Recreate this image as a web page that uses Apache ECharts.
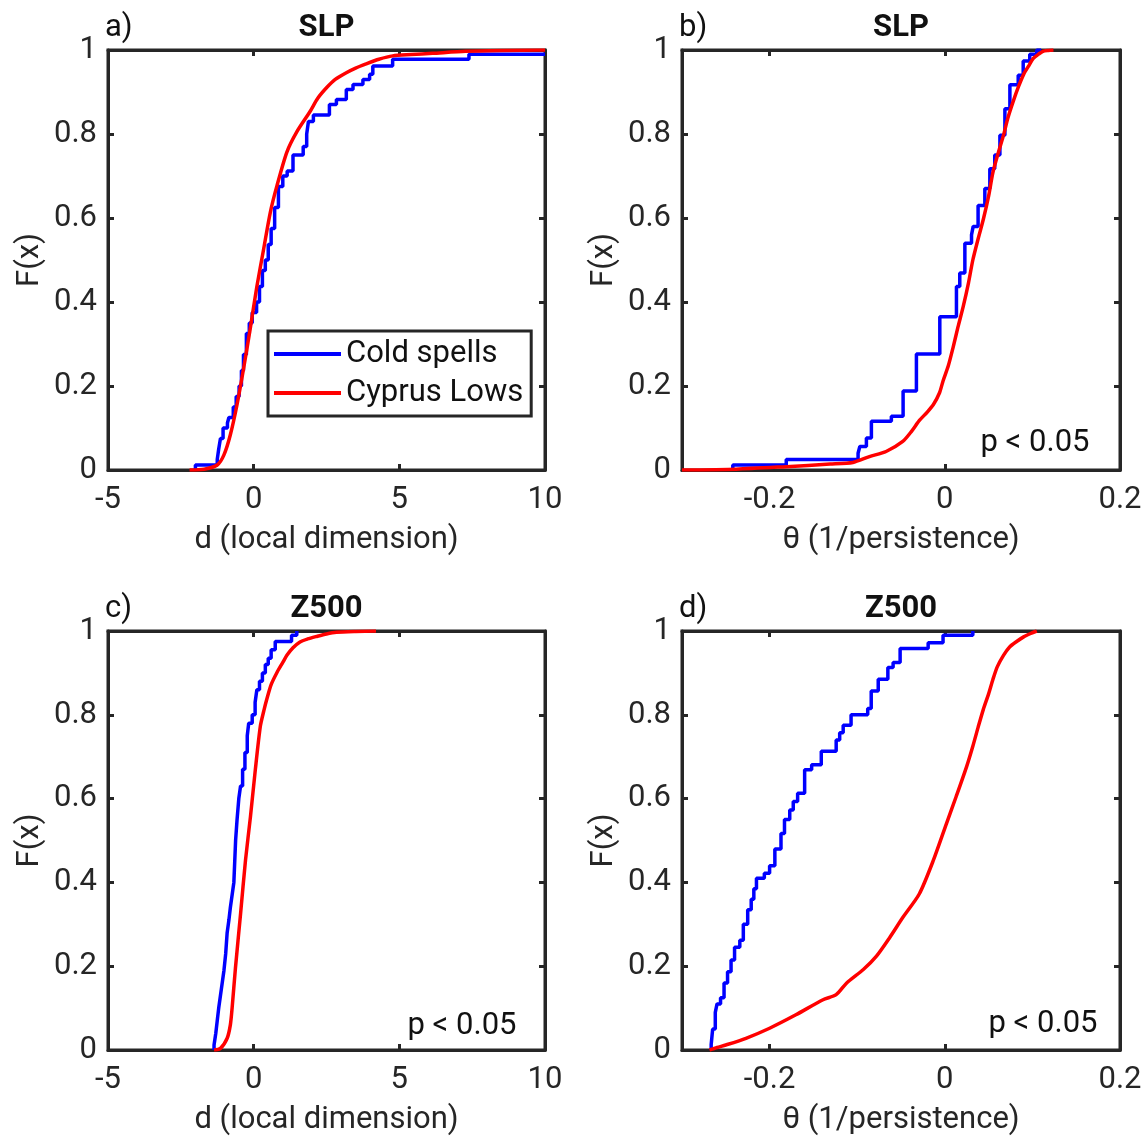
<!DOCTYPE html>
<html><head><meta charset="utf-8">
<script src="https://cdn.jsdelivr.net/npm/echarts@6/dist/echarts.min.js"></script>
<style>html,body{margin:0;padding:0;background:#fff}#c{width:1145px;height:1137px}</style>
</head><body><div id="c"></div>
<script>
// ---------- data ----------
// Panel a: SLP, local dimension d
const aColdX = [-2.0,-2.0,-1.25,-1.2,-1.14,-1.05,-0.9,-0.85,-0.7,-0.6,-0.5,-0.42,-0.35,-0.25,-0.15,-0.05,0.1,0.2,0.3,0.4,0.5,0.6,0.72,0.85,1.0,1.15,1.35,1.7,1.82,1.88,2.05,2.6,2.84,3.18,3.41,3.75,3.98,4.09,4.77,7.39,10];
const aColdF = [0,0.012,0.025,0.05,0.075,0.1,0.112,0.125,0.15,0.175,0.2,0.237,0.275,0.325,0.35,0.375,0.4,0.437,0.475,0.5,0.537,0.575,0.625,0.675,0.7,0.712,0.75,0.77,0.8,0.83,0.845,0.87,0.882,0.906,0.918,0.93,0.942,0.962,0.978,0.99,0.99];
const aCyprX = [-2.2,-1.7,-1.25,-1.02,-0.8,-0.57,-0.34,-0.11,0.11,0.34,0.57,0.8,1.14,1.48,1.93,2.2,2.5,2.8,3.18,3.5,3.86,4.3,4.77,5.4,6.14,7.27,8.5,10];
const aCyprF = [0,0.002,0.012,0.036,0.084,0.156,0.244,0.34,0.437,0.525,0.613,0.677,0.757,0.805,0.853,0.885,0.91,0.93,0.946,0.957,0.967,0.978,0.986,0.989,0.992,0.997,0.999,1.0];
// Panel b: SLP, theta
const bColdX = [-0.242,-0.242,-0.181,-0.099,-0.097,-0.0895,-0.0838,-0.061,-0.0476,-0.0324,-0.0057,0.0133,0.0171,0.0229,0.0305,0.0324,0.038,0.0457,0.0514,0.057,0.0629,0.0686,0.0743,0.0838,0.0895,0.097,0.105,0.11];
const bColdF = [0,0.012,0.025,0.04,0.056,0.076,0.116,0.128,0.188,0.276,0.365,0.437,0.469,0.54,0.56,0.58,0.63,0.67,0.717,0.75,0.797,0.86,0.917,0.94,0.974,0.99,1.0,1.0];
const bCyprX = [-0.3,-0.238,-0.181,-0.131,-0.105,-0.086,-0.067,-0.048,-0.038,-0.029,-0.02,-0.013,-0.006,-0.002,0.004,0.0095,0.015,0.021,0.027,0.032,0.038,0.044,0.05,0.055,0.061,0.067,0.072,0.078,0.084,0.09,0.096,0.101,0.107,0.112,0.118,0.124];
const bCyprF = [0,0.002,0.008,0.014,0.018,0.032,0.044,0.068,0.092,0.118,0.138,0.156,0.184,0.212,0.248,0.292,0.34,0.389,0.445,0.5,0.55,0.597,0.652,0.709,0.755,0.797,0.838,0.877,0.912,0.942,0.963,0.98,0.99,0.997,0.999,1.0];
// Panel c: Z500, local dimension d
const cColdX = [-1.36,-1.36,-1.3,-1.25,-1.2,-1.14,-1.08,-1.02,-0.96,-0.91,-0.85,-0.8,-0.74,-0.68,-0.65,-0.62,-0.57,-0.51,-0.45,-0.38,-0.3,-0.22,-0.17,-0.05,0.05,0.11,0.2,0.3,0.4,0.5,0.6,0.74,1.3,1.48,1.5];
const cColdF = [0,0.012,0.04,0.07,0.1,0.13,0.16,0.19,0.23,0.28,0.31,0.34,0.37,0.4,0.45,0.5,0.55,0.6,0.63,0.67,0.71,0.75,0.78,0.8,0.83,0.86,0.88,0.9,0.92,0.935,0.955,0.975,0.99,1.0,1.0];
const cCyprX = [-1.36,-1.14,-0.91,-0.8,-0.74,-0.625,-0.45,-0.28,-0.11,0.057,0.23,0.35,0.45,0.6,0.8,1.0,1.14,1.35,1.59,1.85,2.16,2.5,2.84,3.5,4.2];
const cCyprF = [0,0.004,0.028,0.06,0.1,0.196,0.325,0.453,0.557,0.669,0.773,0.81,0.837,0.872,0.901,0.925,0.942,0.96,0.974,0.981,0.987,0.993,0.997,0.999,1.0];
// Panel d: Z500, theta
const dColdX = [-0.2667,-0.2667,-0.265,-0.262,-0.26,-0.256,-0.252,-0.248,-0.244,-0.24,-0.234,-0.23,-0.225,-0.221,-0.218,-0.215,-0.206,-0.2,-0.194,-0.187,-0.183,-0.177,-0.173,-0.168,-0.16,-0.152,-0.141,-0.124,-0.12,-0.116,-0.107,-0.088,-0.084,-0.076,-0.065,-0.059,-0.051,-0.019,-0.002,0.032,0.032];
const dColdF = [0,0.0125,0.05,0.09,0.11,0.125,0.16,0.187,0.215,0.245,0.262,0.3,0.335,0.36,0.385,0.41,0.422,0.44,0.48,0.517,0.55,0.573,0.593,0.613,0.669,0.681,0.713,0.74,0.757,0.775,0.8,0.815,0.857,0.885,0.913,0.925,0.958,0.972,0.99,1.0,1.0];
const dCyprX = [-0.2686,-0.26,-0.25,-0.227,-0.2,-0.17,-0.139,-0.124,-0.112,-0.093,-0.078,-0.063,-0.048,-0.029,-0.013,0.002,0.013,0.025,0.032,0.038,0.044,0.05,0.055,0.06,0.067,0.074,0.082,0.09,0.098,0.105];
const dCyprF = [0,0.006,0.012,0.028,0.052,0.084,0.12,0.132,0.16,0.192,0.224,0.268,0.316,0.373,0.453,0.541,0.605,0.677,0.725,0.77,0.813,0.85,0.885,0.915,0.942,0.962,0.975,0.986,0.994,1.0];

const yTicks = [0,0.2,0.4,0.6,0.8,1];
const dTicks = [-5,0,5,10];
const thetaTicks = [-0.2,0,0.2];
const seriesNames = ['Cold spells','Cyprus Lows'];
const panelLetters = ['a)','b)','c)','d)'];
const panelTitles = ['SLP','SLP','Z500','Z500'];
const xNames = ['d (local dimension)','θ (1/persistence)','d (local dimension)','θ (1/persistence)'];
const pTexts = ['', 'p < 0.05', 'p < 0.05', 'p < 0.05'];

// ---------- chart ----------
const FONT = 'Roboto, "Noto Sans", sans-serif';
const FS = 31;
const DARK = '#262626';
const zip = (xs, fs) => xs.map((x, i) => [x, fs[i]]);

const grids = [
  {left:108, top:50, width:437, height:420},
  {left:682, top:50, width:438, height:420},
  {left:108, top:631, width:437, height:419},
  {left:682, top:631, width:438, height:419}
];
const panelData = [
  [aColdX,aColdF,aCyprX,aCyprF],
  [bColdX,bColdF,bCyprX,bCyprF],
  [cColdX,cColdF,cCyprX,cCyprF],
  [dColdX,dColdF,dCyprX,dCyprF]
];
const isTheta = [false,true,false,true];

const xAxis = [], yAxis = [], series = [], graphic = [];
grids.forEach((g, i) => {
  const theta = isTheta[i];
  const ticks = theta ? thetaTicks : dTicks;
  const base = {
    gridIndex: i, type: 'value',
    min: theta ? -0.3 : -5, max: theta ? 0.2 : 10,
    splitLine: {show:false},
    axisTick: {show:true, inside:true, length:6, customValues: ticks, lineStyle:{color:DARK, width:3}},
    axisLine: {show:true, onZero:false, lineStyle:{color:DARK, width:3}}
  };
  xAxis.push(Object.assign({}, base, {
    position: 'bottom',
    name: xNames[i], nameLocation: 'middle', nameGap: 55,
    nameTextStyle: {fontFamily: FONT, fontSize: FS, color: DARK},
    axisLabel: {show:true, customValues: ticks, margin: 15, fontFamily: FONT, fontSize: FS, color: DARK,
      formatter: v => (Math.abs(v) < 1e-9 ? '0' : (theta ? v.toFixed(1) : String(v)))}
  }));
  xAxis.push(Object.assign({}, base, {position: 'top', axisLabel: {show:false}}));
  const ybase = {
    gridIndex: i, type: 'value', min: 0, max: 1, interval: 0.2,
    splitLine: {show:false},
    axisTick: {show:true, inside:true, length:6, lineStyle:{color:DARK, width:3}},
    axisLine: {show:true, onZero:false, lineStyle:{color:DARK, width:3}}
  };
  yAxis.push(Object.assign({}, ybase, {
    position: 'left',
    name: 'F(x)', nameLocation: 'middle', nameGap: 62, nameRotate: 90,
    nameTextStyle: {fontFamily: FONT, fontSize: FS, color: DARK},
    axisLabel: {show:true, margin: 11, fontFamily: FONT, fontSize: FS, color: DARK,
      formatter: v => String(+v.toFixed(1))}
  }));
  yAxis.push(Object.assign({}, ybase, {position: 'right', axisLabel: {show:false}}));

  const [cx, cf, rx, rf] = panelData[i];
  series.push({
    name: seriesNames[0], type: 'line', xAxisIndex: 2*i, yAxisIndex: 2*i,
    data: zip(cx, cf), step: 'end', showSymbol: false, clip: true,
    lineStyle: {color: '#0000ff', width: 3.5}, itemStyle: {color: '#0000ff'}, z: 3
  });
  series.push({
    name: seriesNames[1], type: 'line', xAxisIndex: 2*i, yAxisIndex: 2*i,
    data: zip(rx, rf), smooth: 0.25, showSymbol: false, clip: true,
    lineStyle: {color: '#ff0000', width: 3.5, join: 'round'}, itemStyle: {color: '#ff0000'}, z: 4
  });

  graphic.push({type:'text', x: g.left - 3, y: g.top - 22, style: {text: panelLetters[i], font: FS + 'px ' + FONT, fill: '#111', textAlign: 'left', textVerticalAlign: 'middle'}});
  graphic.push({type:'text', x: g.left + g.width/2, y: g.top - 22, style: {text: panelTitles[i], font: 'bold ' + FS + 'px ' + FONT, fill: '#111', textAlign: 'center', textVerticalAlign: 'middle'}});
  if (pTexts[i]) {
    const pos = [[0,0],[1035,443],[462,1026],[1043,1024]][i];
    graphic.push({type:'text', x: pos[0], y: pos[1], z: 10, style: {text: pTexts[i], font: FS + 'px ' + FONT, fill: '#111', textAlign: 'center', textVerticalAlign: 'middle'}});
  }
});

const chart = echarts.init(document.getElementById('c'), null, {renderer: 'canvas'});
chart.setOption({
  animation: false,
  backgroundColor: '#fff',
  grid: grids.map(g => Object.assign({show: true, borderColor: DARK, borderWidth: 3, backgroundColor: 'transparent'}, g)),
  xAxis, yAxis, series, graphic,
  legend: {
    data: seriesNames, orient: 'vertical', left: 268, top: 331,
    icon: 'rect', itemWidth: 67, itemHeight: 4, itemGap: 3,
    padding: [5, 8, 5, 6], borderColor: DARK, borderWidth: 3, backgroundColor: '#fff',
    textStyle: {fontFamily: FONT, fontSize: FS, color: '#111', lineHeight: 36},
    selectedMode: false
  }
});
</script></body></html>
